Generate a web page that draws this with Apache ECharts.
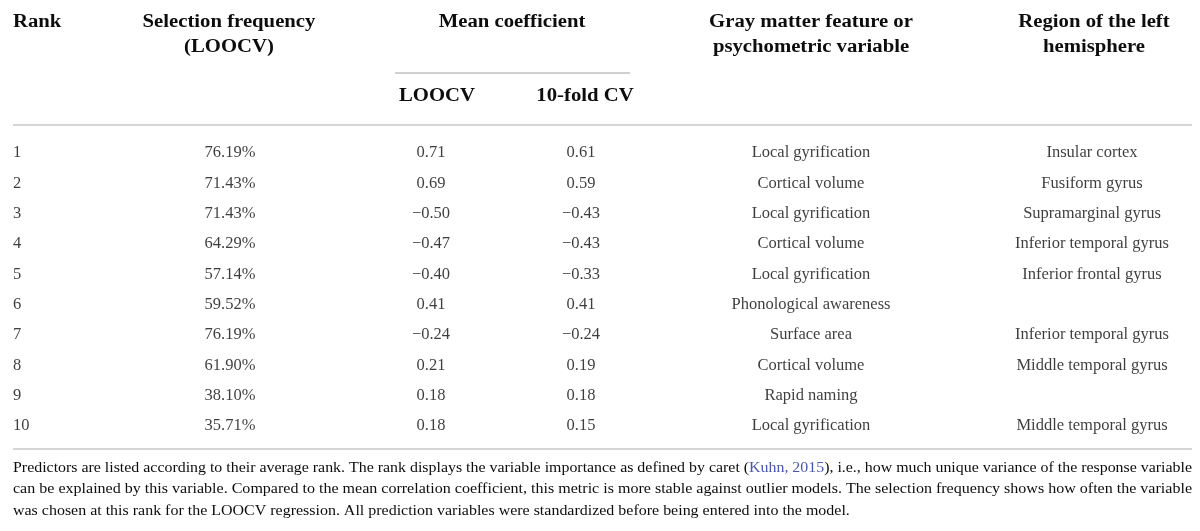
<!DOCTYPE html>
<html>
<head>
<meta charset="utf-8">
<script src="https://cdn.jsdelivr.net/npm/echarts@6/dist/echarts.min.js"></script>
<style>
  html, body { margin: 0; padding: 0; background: #fff; }
  #chart { width: 1200px; height: 531px; }
</style>
</head>
<body>
<div id="chart"></div>
<script>
// table data
const ranks = [1, 2, 3, 4, 5, 6, 7, 8, 9, 10];
const selectionFreq = [76.19, 71.43, 71.43, 64.29, 57.14, 59.52, 76.19, 61.90, 38.10, 35.71];
const coefLoocv = [0.71, 0.69, -0.50, -0.47, -0.40, 0.41, -0.24, 0.21, 0.18, 0.18];
const coefTenFold = [0.61, 0.59, -0.43, -0.43, -0.33, 0.41, -0.24, 0.19, 0.18, 0.15];
const features = [
  "Local gyrification", "Cortical volume", "Local gyrification", "Cortical volume",
  "Local gyrification", "Phonological awareness", "Surface area", "Cortical volume",
  "Rapid naming", "Local gyrification"
];
const regions = [
  "Insular cortex", "Fusiform gyrus", "Supramarginal gyrus", "Inferior temporal gyrus",
  "Inferior frontal gyrus", "", "Inferior temporal gyrus", "Middle temporal gyrus",
  "", "Middle temporal gyrus"
];
const footnoteLines = [
  ["Predictors are listed according to their average rank. The rank displays the variable importance as defined by caret (", "Kuhn, 2015", "), i.e., how much unique variance of the response variable"],
  ["can be explained by this variable. Compared to the mean correlation coefficient, this metric is more stable against outlier models. The selection frequency shows how often the variable"],
  ["was chosen at this rank for the LOOCV regression. All prediction variables were standardized before being entered into the model."]
];

const FONT = '"Liberation Serif", "DejaVu Serif", serif';
const TEXT = "#0d0d0d";
const HEAD_FONT = "bold 18.5px " + FONT;
const HEAD_SX = 1.12;
const NOTE_FONT = "15px " + FONT;
const fmtCoef = v => (v < 0 ? "\u2212" : "") + Math.abs(v).toFixed(2);

// column x-positions (px) and alignment
const columns = [
  { x: 13, align: "left", text: i => String(ranks[i]) },
  { x: 230, align: "center", text: i => selectionFreq[i].toFixed(2) + "%" },
  { x: 431, align: "center", text: i => fmtCoef(coefLoocv[i]) },
  { x: 581, align: "center", text: i => fmtCoef(coefTenFold[i]) },
  { x: 811, align: "center", text: i => features[i] },
  { x: 1092, align: "center", text: i => regions[i] }
];

const chart = echarts.init(document.getElementById("chart"));

function headerText(text, x, y, align) {
  return {
    type: "text", silent: true,
    x: x, y: y, scaleX: HEAD_SX,
    style: { text: text, x: 0, y: 0, textAlign: align || "center", textVerticalAlign: "middle",
      font: HEAD_FONT, fill: TEXT }
  };
}
function rule(x1, x2, y, w, color) {
  return { type: "line", silent: true,
    shape: { x1: x1, y1: y, x2: x2, y2: y },
    style: { stroke: color, lineWidth: w } };
}

const graphics = [
  headerText("Rank", 13, 22, "left"),
  headerText("Selection frequency", 229, 22),
  headerText("(LOOCV)", 229, 47),
  headerText("Mean coefficient", 512, 22),
  headerText("LOOCV", 437, 96),
  headerText("10-fold CV", 585, 96),
  headerText("Gray matter feature or", 811, 22),
  headerText("psychometric variable", 811, 47),
  headerText("Region of the left", 1094, 22),
  headerText("hemisphere", 1094, 47),
  rule(395, 630, 73, 1, "#a0a0a0"),
  rule(13, 1192, 125, 2, "#d6d6d6"),
  rule(13, 1192, 449, 2, "#d6d6d6")
];

// footnote: stretch the first two lines to the full table width (justified look)
const ctx = document.createElement("canvas").getContext("2d");
ctx.font = NOTE_FONT;
const noteWidth = 1192 - 13;
const scales = footnoteLines.map(parts => noteWidth / ctx.measureText(parts.join("")).width);
const lastScale = (scales[0] + scales[1]) / 2;

footnoteLines.forEach((parts, k) => {
  const txt = parts.length === 3
    ? "{a|" + parts[0] + "}{c|" + parts[1] + "}{a|" + parts[2] + "}"
    : "{a|" + parts[0] + "}";
  graphics.push({
    type: "text", silent: true,
    x: 13, y: 468 + k * 21.5,
    scaleX: k < 2 ? scales[k] : lastScale,
    style: {
      text: txt, x: 0, y: 0, textAlign: "left", textVerticalAlign: "middle",
      rich: {
        a: { font: NOTE_FONT, fill: TEXT },
        c: { font: NOTE_FONT, fill: "#4a56b0" }
      }
    }
  });
});

chart.setOption({
  backgroundColor: "#fff",
  animation: false,
  grid: { left: 0, right: 0, top: 137.8, height: 303.3 },
  xAxis: { type: "value", min: 0, max: 1200, show: false },
  yAxis: { type: "category", data: ranks.map(String), inverse: true, show: false },
  series: columns.map(col => ({
    type: "scatter",
    symbolSize: 0,
    silent: true,
    data: ranks.map((r, i) => [col.x, i]),
    label: {
      show: true,
      position: "inside",
      align: col.align,
      verticalAlign: "middle",
      fontFamily: FONT,
      fontSize: 16.5,
      color: TEXT,
      formatter: p => columns[p.seriesIndex].text(p.dataIndex)
    }
  })),
  graphic: graphics
});
window.addEventListener("resize", function () { chart.resize(); });
</script>
</body>
</html>
